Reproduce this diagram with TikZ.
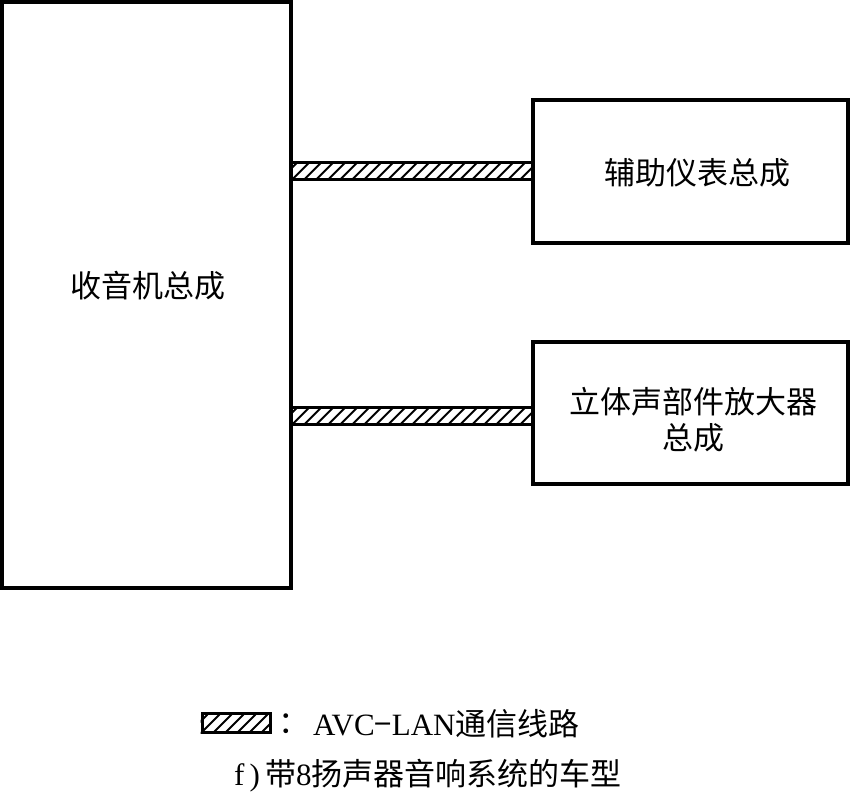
\documentclass[tikz,border=0pt]{standalone}
\usepackage{fontspec}
\setmainfont{Liberation Serif}
\newfontfamily\cjk{Noto Sans CJK SC}
\begin{document}
\begin{tikzpicture}[x=1pt,y=-1pt,
  box/.style={draw=black,line width=3.5pt,rectangle,inner sep=0pt,fill=white},
  lbl/.style={inner sep=0pt,font=\fontsize{31}{37}\selectfont\cjk,align=center},
  busframe/.style={draw=black,line width=3pt},
  hatch/.style={draw=black,line width=1.8pt}]
\useasboundingbox (0,0) rectangle (851,800);
% boxes
\node[box,minimum width=289pt,minimum height=586pt] (radio) at (146.5,295) {};
\node[box,minimum width=315pt,minimum height=143pt] (aux) at (690.5,171.5) {};
\node[box,minimum width=315pt,minimum height=142pt] (amp) at (690.5,413) {};
% buses
\coordinate (b1) at (0,170.5);
\coordinate (b2) at (0,415.5);
\begin{scope}
  \clip ([yshift=8.5pt]radio.east |- b1) rectangle ([yshift=-8.5pt]aux.west |- b1);
  \foreach \i in {-2,...,22}
    \draw[hatch] ([xshift=\i*12pt,yshift=-8.5pt]radio.east |- b1) -- ++(17,-17);
\end{scope}
\draw[busframe] ([yshift=8.5pt]radio.east |- b1) -- ([yshift=8.5pt]aux.west |- b1)
  ([yshift=-8.5pt]radio.east |- b1) -- ([yshift=-8.5pt]aux.west |- b1);
\begin{scope}
  \clip ([yshift=8.5pt]radio.east |- b2) rectangle ([yshift=-8.5pt]amp.west |- b2);
  \foreach \i in {-2,...,22}
    \draw[hatch] ([xshift=\i*12pt,yshift=-8.5pt]radio.east |- b2) -- ++(17,-17);
\end{scope}
\draw[busframe] ([yshift=8.5pt]radio.east |- b2) -- ([yshift=8.5pt]amp.west |- b2)
  ([yshift=-8.5pt]radio.east |- b2) -- ([yshift=-8.5pt]amp.west |- b2);
% labels
\node[lbl] (radiolbl) at (148,286) {收音机总成};
\node[lbl] (auxlbl) at (697,173) {辅助仪表总成};
\node[lbl] (amplbl1) at (693,402) {立体声部件放大器};
\node[lbl] (amplbl2) at (693,438) {总成};
% legend
\node[draw=black,line width=3pt,minimum width=68pt,minimum height=19pt,inner sep=0pt] (legbox) at (236,722.5) {};
\begin{scope}
  \clip (legbox.south west) rectangle (legbox.north east);
  \foreach \i in {-2,...,6}
    \draw[hatch] ([xshift=\i*12pt]legbox.south west) -- ++(19,-19);
\end{scope}
\node[draw=black,line width=3pt,minimum width=68pt,minimum height=19pt,inner sep=0pt] at (legbox) {};
\node[lbl] (colon) at (294,724) {：};
\node[inner sep=0pt,anchor=west,font=\fontsize{31}{37}\selectfont] (legtext) at (313,724)
  {AVC{\cjk −}LAN{\cjk 通信线路}};
\node[inner sep=0pt,anchor=west,font=\fontsize{31}{37}\selectfont] (caption) at (234,776)
  {f\,)\,{\cjk 带}8{\cjk 扬声器音响系统的车型}};
\end{tikzpicture}
\end{document}
